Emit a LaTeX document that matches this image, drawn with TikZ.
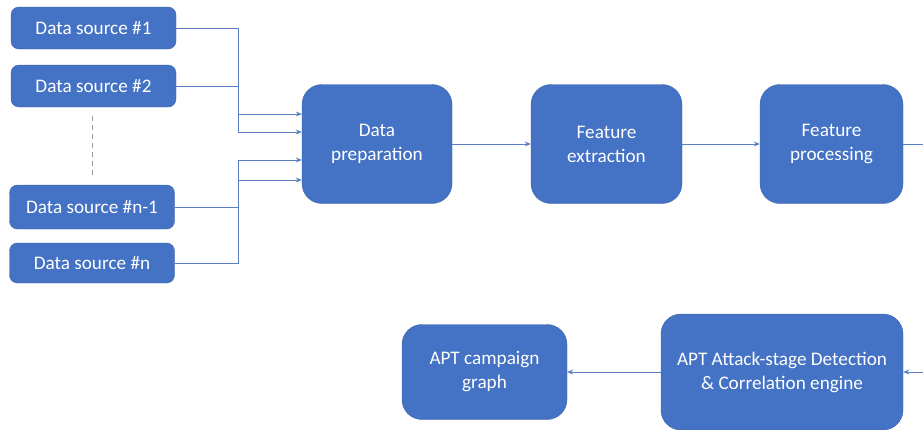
\documentclass[tikz,border=0pt]{standalone}
\usepackage{fontspec}
\setmainfont{Carlito}
\usepackage{tikz}
\usetikzlibrary{arrows.meta}
\usetikzlibrary{positioning}

\definecolor{boxblue}{HTML}{4472C4}
\definecolor{boxedge}{HTML}{3A62AA}
\definecolor{linkblue}{HTML}{5A7FC4}

\tikzset{
  srcbox/.style={draw=boxedge,fill=boxblue,text=white,rounded corners=8pt,inner sep=0pt,
    minimum width=165pt,minimum height=42pt},
  stagebox/.style={draw=boxedge,fill=boxblue,text=white,rounded corners=20pt,inner sep=0pt,
    align=center,minimum height=119pt},
  link/.style={draw=linkblue,line width=0.9pt},
  linkto/.style={link,-{Stealth[length=6pt,width=5pt]}}
}

\begin{document}
\begin{tikzpicture}[x=1pt,y=-1pt,font=\fontsize{19.2}{24}\selectfont]
  \useasboundingbox (0,0) rectangle (923,429);

  %sources
  \node[srcbox,name=ds1,at={(93.5,28)}]{Data source \#1};
  \node[srcbox,name=ds2,at={(93.5,86)}]{Data source \#2};
  \node[srcbox,name=dsm,at={(92,207)},minimum height=44pt]{Data source \#n-1};
  \node[srcbox,name=dsn,at={(92,263)},minimum height=40pt]{Data source \#n};
  \draw[gray!80,line width=0.8pt,dash pattern=on 5pt off 4pt] ([yshift=-9pt]ds2.south -| dsm.north) -- ([yshift=9pt]dsm.north);

  %pipeline
  \node[stagebox,name=dp,at={(377,144)},minimum width=150pt]{Data\\preparation};
  \node[stagebox,name=fe,at={(606.5,144)},minimum width=151pt]{Feature\\extraction};
  \node[stagebox,name=fp,at={(831.5,144)},minimum width=143pt]{Feature\\processing};

  %detection
  \node[stagebox,name=det,at={(782,372)},minimum width=242pt,minimum height=116pt]{APT Attack-stage Detection\\\& Correlation engine};
  \node[stagebox,name=cg,at={(484.5,372)},minimum width=165pt,minimum height=95pt]{APT campaign\\graph};

  %bus
  \coordinate (bus) at (238,144);
  \draw[linkto] (ds1.east) -- (ds1.east -| bus) |- ([yshift=30pt]dp.west);
  \draw[linkto] (ds2.east) -- (ds2.east -| bus) |- ([yshift=12pt]dp.west);
  \draw[linkto] (dsn.east) -- (dsn.east -| bus) |- ([yshift=-16pt]dp.west);
  \draw[linkto] (dsm.east) -- (dsm.east -| bus) |- ([yshift=-36pt]dp.west);

  %flow
  \draw[linkto] (dp) -- (fe);
  \draw[linkto] (fe) -- (fp);
  \coordinate (outa) at (923,144);
  \coordinate (outb) at (923,372);
  \draw[link] (fp.east) -- (outa);
  \draw[linkto] (outb) -- (det.east);
  \draw[linkto] (det) -- (cg);
\end{tikzpicture}
\end{document}
